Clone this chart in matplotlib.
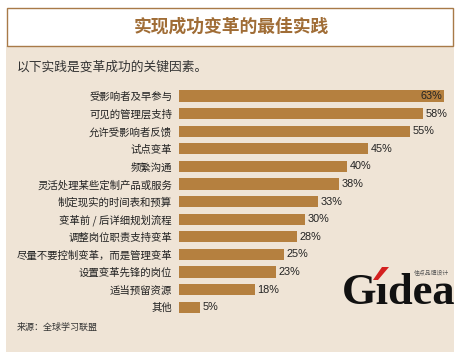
import matplotlib
matplotlib.use("Agg")
import matplotlib.pyplot as plt
from matplotlib.patches import Rectangle, Polygon

plt.rcParams['font.family'] = ['Noto Sans CJK SC', 'DejaVu Sans']

# ===================== Datos =====================
practices = ["受影响者及早参与", "可见的管理层支持", "允许受影响者反馈", "试点变革",
             "频繁沟通", "灵活处理某些定制产品或服务", "制定现实的时间表和预算",
             "变革前 / 后详细规划流程", "调整岗位职责支持变革",
             "尽量不要控制变革，而是管理变革", "设置变革先锋的岗位", "适当预留资源", "其他"]
percent = [63, 58, 55, 45, 40, 38, 33, 30, 28, 25, 23, 18, 5]

title = "实现成功变革的最佳实践"
subtitle = "以下实践是变革成功的关键因素。"
source = "来源：全球学习联盟"

bar_color = "#b5803f"
bg_color = "#efe4d6"
brown = "#a87a48"

W, H = 466, 361
fig = plt.figure(figsize=(W / 100, H / 100), dpi=100)
fig.patch.set_facecolor("white")

def fx(px):
    return px / W

def fy(py):
    return 1 - py / H

# ===================== Fondo y cabecera =====================
fig.patches.append(Rectangle((fx(6), fy(352)), fx(454) - fx(6), fy(46) - fy(352),
                             transform=fig.transFigure, facecolor=bg_color,
                             edgecolor="none", zorder=-2))
fig.patches.append(Rectangle((fx(7), fy(46)), fx(453) - fx(7), fy(8) - fy(46),
                             transform=fig.transFigure, facecolor="white",
                             edgecolor=brown, linewidth=1.0, zorder=-1))
fig.text(fx(231), fy(27), title, ha="center", va="center", fontsize=12.8,
         fontweight="bold", color="#a06d36")
fig.text(fx(17), fy(67), subtitle, ha="left", va="center", fontsize=9.2, color="#333333")
fig.text(fx(17), fy(327), source, ha="left", va="center", fontsize=6.5, color="#333333")

# ===================== Barras =====================
ax = fig.add_axes([fx(179), fy(316), fx(453) - fx(179), fy(87.2) - fy(316)])
ax.set_zorder(2)
ax.set_facecolor("none")
y = list(range(len(practices)))
ax.barh(y, percent, height=0.63, color=bar_color)
ax.set_xlim(0, (453 - 179) / 4.2)
ax.set_ylim(len(practices) - 0.5, -0.5)
ax.set_yticks(y)
ax.set_yticklabels(practices, fontsize=7.5, color="#222222")
ax.tick_params(axis="y", length=0, pad=5)
ax.set_xticks([])
for s in ax.spines.values():
    s.set_visible(False)

for i, v in enumerate(percent):
    if i == 0:
        ax.text(v - 0.3, i, f"{v}%", ha="right", va="center", fontsize=7.8, color="#222222",
                family="Liberation Sans")
    else:
        ax.text(v + 0.6, i, f"{v}%", ha="left", va="center", fontsize=7.8, color="#222222",
                family="Liberation Sans")

# ===================== Logo =====================
fig.text(fx(342), fy(304), "G\u0131dea", ha="left", va="baseline", fontsize=32,
         fontweight="bold", family="Liberation Serif", color="#111111")
accent = [(373, 280), (378, 280), (389, 267), (382, 267)]
fig.patches.append(Polygon([(fx(a), fy(b)) for a, b in accent], closed=True,
                           transform=fig.transFigure, facecolor="#d42020",
                           edgecolor="none", zorder=3))
fig.text(fx(414), fy(272), "佳点品牌设计", ha="left", va="center", fontsize=4.2, color="#555555")

fig.savefig("out.png", dpi=100, facecolor=fig.get_facecolor())
